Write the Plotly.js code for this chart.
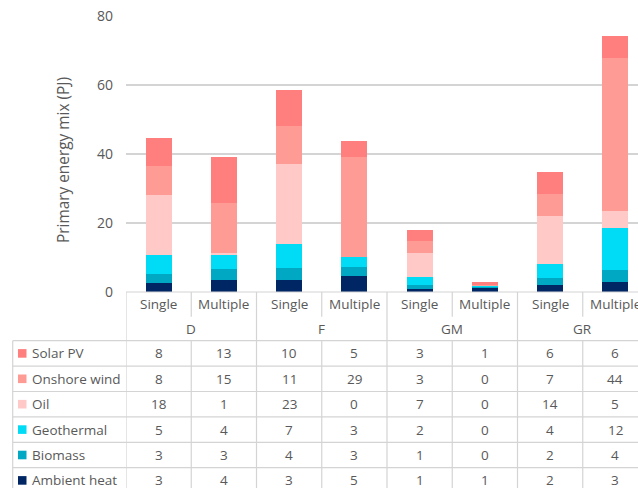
<!DOCTYPE html>
<html><head><meta charset="utf-8">
<script src="https://cdn.plot.ly/plotly-3.0.1.min.js"></script>
<style>html,body{margin:0;padding:0;overflow:hidden;background:#fff}#chart{width:660px;height:488px}</style>
</head><body><div id="chart"></div>
<script>
// ---- data ----
const groups = ['D', 'F', 'GM', 'GR'];
const subs = ['Single', 'Multiple'];
const categories = ['D Single', 'D Multiple', 'F Single', 'F Multiple', 'GM Single', 'GM Multiple', 'GR Single', 'GR Multiple'];
const seriesNames = ['Ambient heat', 'Biomass', 'Geothermal', 'Oil', 'Onshore wind', 'Solar PV'];
const ambientHeat = [2.6, 3.6, 3.4, 4.6, 1.0, 1.2, 1.95, 2.8];
const biomass     = [2.6, 3.1, 3.6, 2.7, 0.95, 0.2, 2.1, 3.6];
const geothermal  = [5.4, 4.0, 7.0, 2.9, 2.4, 0.2, 4.2, 12.1];
const oil         = [17.6, 0.6, 23.1, 0.0, 6.95, 0.0, 13.7, 4.9];
const onshoreWind = [8.4, 14.6, 11.0, 28.8, 3.4, 0.3, 6.6, 44.4];
const solarPV     = [7.9, 13.2, 10.4, 4.7, 3.4, 1.1, 6.1, 6.4];
const yTicks = [0, 20, 40, 60, 80];

// ---- styles ----
const colors = ['#002664', '#00a8c4', '#00dcf5', '#ffc9c7', '#ff9b95', '#ff7f7f'];
const seriesValues = [ambientHeat, biomass, geothermal, oil, onshoreWind, solarPV];
const FONT = '"Open Sans", sans-serif';
const TXT = '#595959';
const LINE = '#d4d4d4';

const W = 660, H = 488, ML = 126, MR = 12, MT = 16, MB = 196;
const PW = W - ML - MR, PH = H - MT - MB;
const px2x = px => (px - ML) / PW;
const py2y = py => (H - MB - py) / PH;

const traces = seriesValues.map((vals, s) => ({
  type: 'bar', name: seriesNames[s], x: categories, y: vals,
  marker: {color: colors[s], line: {width: 0}},
  hoverinfo: 'none'
}));

const shapes = [];
const annotations = [];
const tableTop = 292, headSplit = 316.7, rowTop = 340.7, rowH = 25.4, bottom = 520;
const lineStyle = {color: LINE, width: 1.2};

// horizontal lines
shapes.push({type: 'line', xref: 'paper', yref: 'paper', x0: 0, x1: 1.05, y0: py2y(tableTop), y1: py2y(tableTop), line: lineStyle});
for (let r = 0; r < 6; r++) {
  const y = rowTop + r * rowH;
  shapes.push({type: 'line', xref: 'paper', yref: 'paper', x0: px2x(12.7), x1: 1.05, y0: py2y(y), y1: py2y(y), line: lineStyle});
}
// left border of row-label column
shapes.push({type: 'line', xref: 'paper', yref: 'paper', x0: px2x(12.7), x1: px2x(12.7), y0: py2y(rowTop), y1: py2y(bottom), line: lineStyle});
// vertical lines at category boundaries
for (let k = 0; k <= categories.length; k++) {
  const xv = k - 0.5;
  if (k % 2 === 0) {
    shapes.push({type: 'line', xref: 'x', yref: 'paper', x0: xv, x1: xv, y0: py2y(tableTop), y1: py2y(bottom), line: lineStyle});
  } else {
    shapes.push({type: 'line', xref: 'x', yref: 'paper', x0: xv, x1: xv, y0: py2y(tableTop), y1: py2y(headSplit), line: lineStyle});
    shapes.push({type: 'line', xref: 'x', yref: 'paper', x0: xv, x1: xv, y0: py2y(rowTop), y1: py2y(bottom), line: lineStyle});
  }
}

const tfont = {family: FONT, size: 13.5, color: TXT};
// header labels
categories.forEach((c, i) => {
  annotations.push({xref: 'x', yref: 'paper', x: i, y: py2y(304), text: subs[i % 2], showarrow: false, xanchor: 'center', yanchor: 'middle', font: tfont});
});
groups.forEach((g, gi) => {
  annotations.push({xref: 'x', yref: 'paper', x: gi * 2 + 0.5, y: py2y(328.5), text: g, showarrow: false, xanchor: 'center', yanchor: 'middle', font: tfont});
});
// rows: Solar PV on top down to Ambient heat
for (let r = 0; r < 6; r++) {
  const s = 5 - r;
  const yc = rowTop + r * rowH + rowH / 2;
  shapes.push({type: 'rect', xref: 'paper', yref: 'paper', x0: px2x(18), x1: px2x(26.5), y0: py2y(yc + 4.3), y1: py2y(yc - 4.3), fillcolor: colors[s], line: {width: 0}});
  annotations.push({xref: 'paper', yref: 'paper', x: px2x(30), y: py2y(yc), text: seriesNames[s], showarrow: false, xanchor: 'left', yanchor: 'middle', font: tfont});
  seriesValues[s].forEach((v, i) => {
    annotations.push({xref: 'x', yref: 'paper', x: i, y: py2y(yc), text: String(Math.round(v)), showarrow: false, xanchor: 'center', yanchor: 'middle', font: tfont});
  });
}
// y axis title
annotations.push({xref: 'paper', yref: 'paper', x: px2x(63), y: py2y(160), text: 'Primary energy mix (PJ)', textangle: -90, showarrow: false, xanchor: 'center', yanchor: 'middle', font: {family: FONT, size: 15.4, color: TXT}});

const layout = {
  width: W, height: H,
  margin: {l: ML, r: MR, t: MT, b: MB, pad: 0},
  barmode: 'stack', bargap: 0.6,
  showlegend: false,
  paper_bgcolor: '#fff', plot_bgcolor: '#fff',
  font: {family: FONT, color: TXT},
  xaxis: {type: 'category', range: [-0.5, 7.5], showticklabels: false, showgrid: false, zeroline: false, showline: false, ticks: ''},
  yaxis: {range: [0, 80], tickvals: yTicks, ticktext: yTicks.map(String), showgrid: true, gridcolor: LINE, gridwidth: 1.2,
          zeroline: false, showline: false, ticks: '', ticklabelstandoff: 12, tickfont: {family: FONT, size: 14, color: TXT}},
  shapes: shapes,
  annotations: annotations
};

Plotly.newPlot('chart', traces, layout, {staticPlot: true, displayModeBar: false});
</script>
</body></html>
